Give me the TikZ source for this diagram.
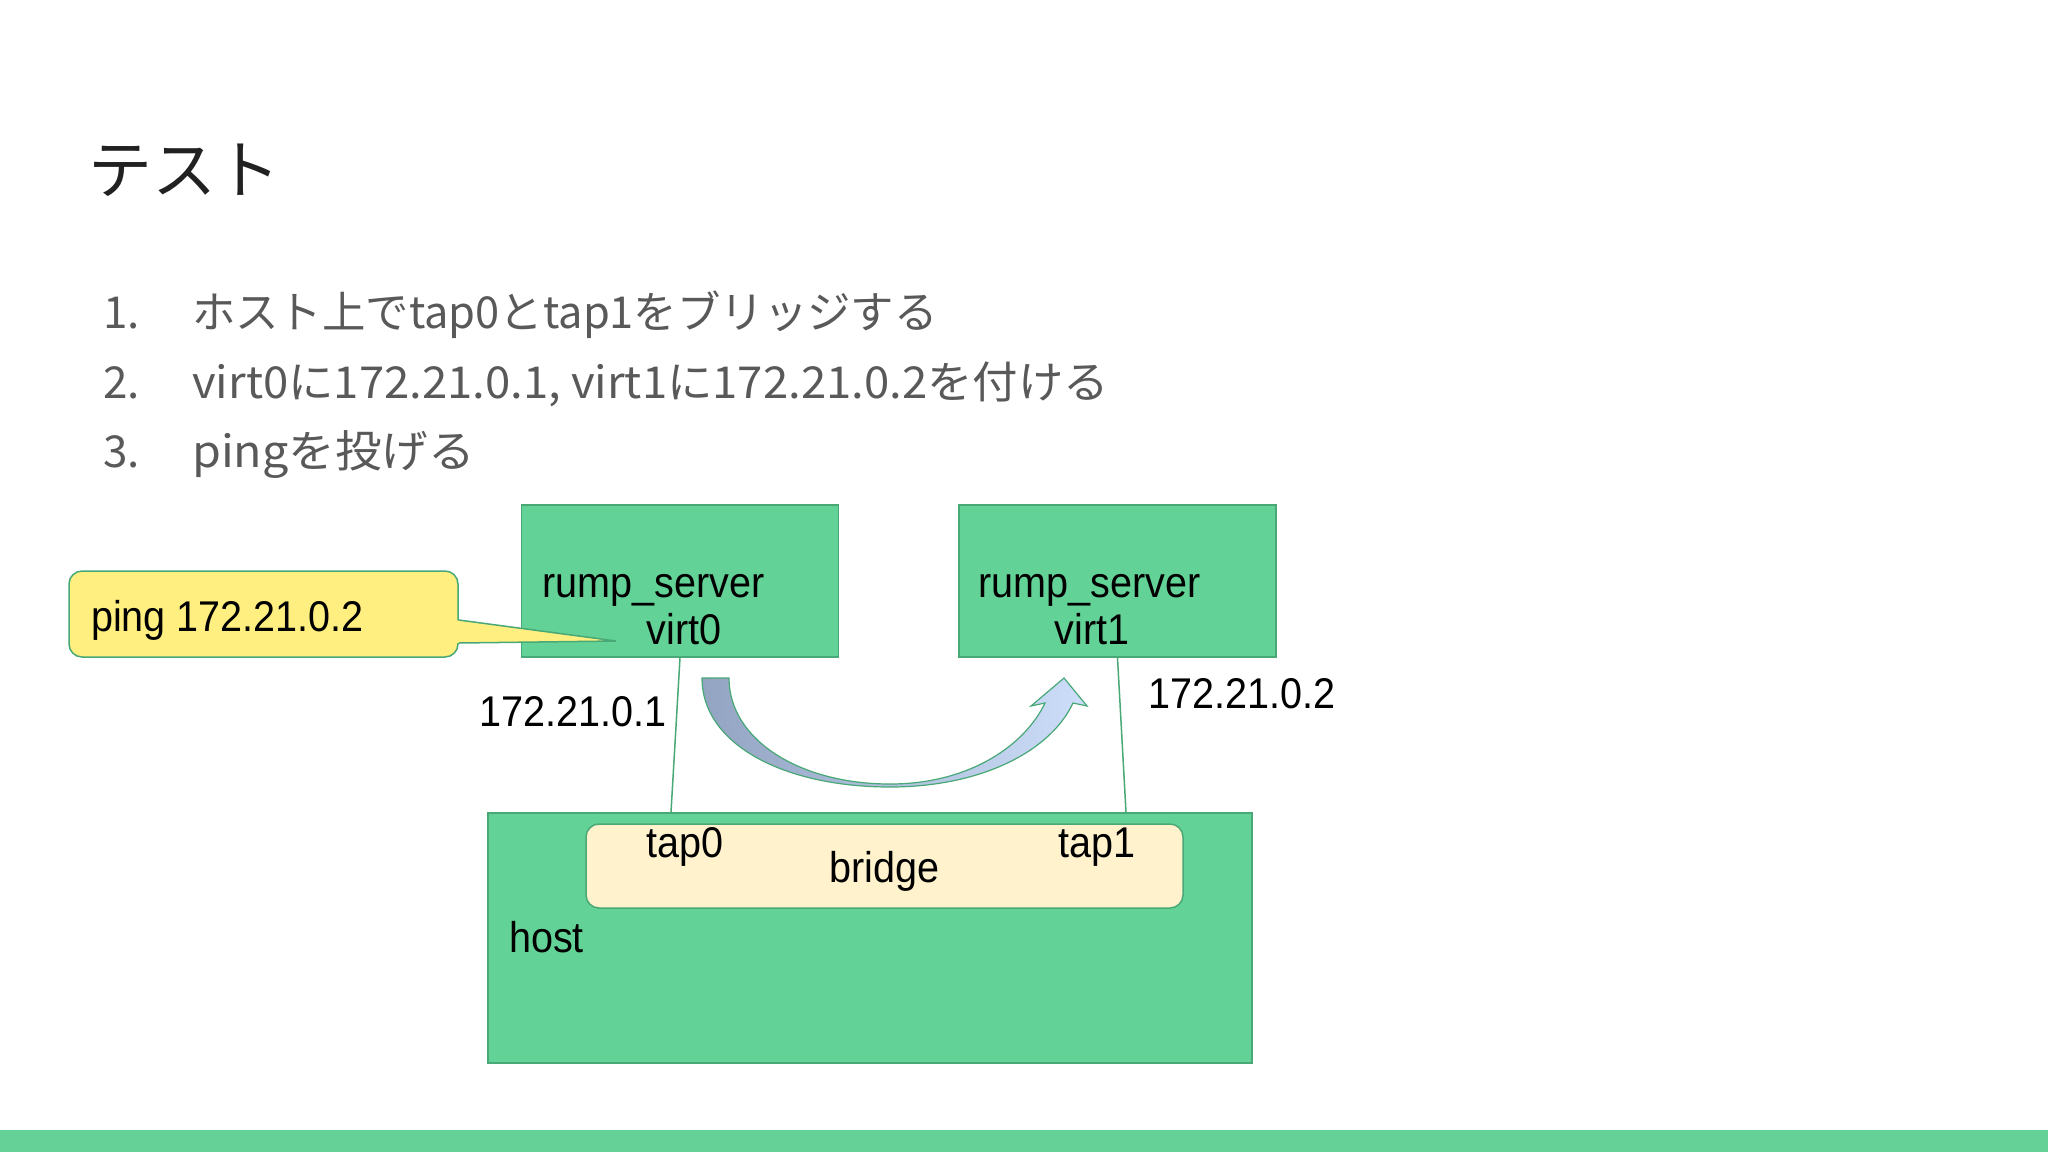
\documentclass[tikz,border=0pt]{standalone}
\usepackage{fontspec}
\setmainfont{Liberation Sans}
\newfontfamily\jp{Noto Sans CJK JP}
\usetikzlibrary{calc}
\definecolor{boxgreen}{RGB}{99,210,151}
\definecolor{edgegreen}{RGB}{72,168,118}
\definecolor{bargreen}{RGB}{102,209,151}
\definecolor{bridgefill}{RGB}{255,242,204}
\definecolor{pingfill}{RGB}{255,239,128}
\definecolor{arrowleft}{RGB}{147,163,194}
\definecolor{arrowright}{RGB}{205,222,250}
\definecolor{listgray}{RGB}{89,89,89}
\newcommand\narrow[1]{\scalebox{0.92}[1]{#1}}
\begin{document}
\begin{tikzpicture}[x=1pt,y=-1pt,
  box/.style={draw=edgegreen, fill=boxgreen, line width=1.5pt, inner sep=0pt},
  bridgebox/.style={draw=edgegreen, fill=bridgefill, line width=1.5pt, inner sep=0pt, rounded corners=13pt},
  callout/.style={draw=edgegreen, fill=pingfill, line width=1.5pt, inner sep=0pt, rounded corners=13pt},
  conn/.style={draw=edgegreen, line width=1.5pt},
  lbl/.style={inner sep=0pt, text=black, font=\fontsize{43}{50}\selectfont},
  listtxt/.style={inner sep=0pt, text=listgray, font=\jp\fontsize{44}{50}\selectfont},
  titletxt/.style={inner sep=0pt, text=black!87, font=\jp\fontsize{64}{70}\selectfont}]
\useasboundingbox (0,0) rectangle (2048,1152);
\fill[white] (0,0) rectangle (2048,1152);
\fill[bargreen] (0,1130) rectangle (2048,1152);

% title and list
\node[titletxt, anchor=base west] (title) at (88,193) {テスト};
\node[listtxt, anchor=base east] (n1) at (140,328) {1.};
\node[listtxt, anchor=base west] (l1) at (192,328) {\scalebox{0.986}[1]{ホスト上でtap0とtap1をブリッジする}};
\node[listtxt, anchor=base east] (n2) at (140,398) {2.};
\node[listtxt, anchor=base west] (l2) at (192,398) {\scalebox{1.033}[1]{virt0に172.21.0.1, virt1に172.21.0.2を付ける}};
\node[listtxt, anchor=base east] (n3) at (140,467) {3.};
\node[listtxt, anchor=base west] (l3) at (192,467) {\scalebox{1.06}[1]{pingを投げる}};

% boxes
\node[box, minimum width=317pt, minimum height=152pt] (srv0) at (680,581) {};
\node[box, minimum width=317pt, minimum height=152pt] (srv1) at (1117.5,581) {};
\node[box, minimum width=764pt, minimum height=250pt] (host) at (870,938) {};
\node[bridgebox, minimum width=597pt, minimum height=84pt] (br) at (884.5,866) {};

% connectors
\draw[conn] (srv0.south) -- ([xshift=-199pt]host.north);
\draw[conn] (srv1.south) -- ([xshift=256pt]host.north);

% curved arrow
\shadedraw[left color=arrowleft, right color=arrowright, draw=edgegreen, line width=1.2pt]
  (702,678) -- (729,678)
  .. controls (729,740) and (800,784) .. (890,784)
  .. controls (970,784) and (1025,745) .. (1045,703)
  -- (1031,706) -- (1064,678) -- (1087,706) -- (1073,703)
  .. controls (1050,752) and (980,787) .. (890,787)
  .. controls (785,787) and (702,745) .. (702,678) -- cycle;

% callout
\node[callout, minimum width=389pt, minimum height=86pt] (ping) at (263.5,614) {};
\fill[pingfill] (455,620) -- (616,641) -- (455,643) -- cycle;
\draw[conn] (ping.east |- 0,620) -- (616,641) -- (ping.east |- 0,643);

% labels
\node[lbl, anchor=base west] (pingtxt) at (91,631) {\narrow{ping 172.21.0.2}};
\node[lbl, anchor=base west] (rs0) at (542,597) {\narrow{rump\_server}};
\node[lbl, anchor=base] (v0) at (684,644) {\narrow{virt0}};
\node[lbl, anchor=base west] (rs1) at (978,597) {\narrow{rump\_server}};
\node[lbl, anchor=base] (v1) at (1092,644) {\narrow{virt1}};
\node[lbl, anchor=base west] (ip0) at (479,726) {\narrow{172.21.0.1}};
\node[lbl, anchor=base west] (ip1) at (1148,708) {\narrow{172.21.0.2}};
\node[lbl, anchor=base] (tap0) at (685,857) {\narrow{tap0}};
\node[lbl, anchor=base] (tap1) at (1097,857) {\narrow{tap1}};
\node[lbl, anchor=base] (brtxt) at (884.5,882) {\narrow{bridge}};
\node[lbl, anchor=base west] (hosttxt) at (509,952) {\narrow{host}};
\end{tikzpicture}
\end{document}
